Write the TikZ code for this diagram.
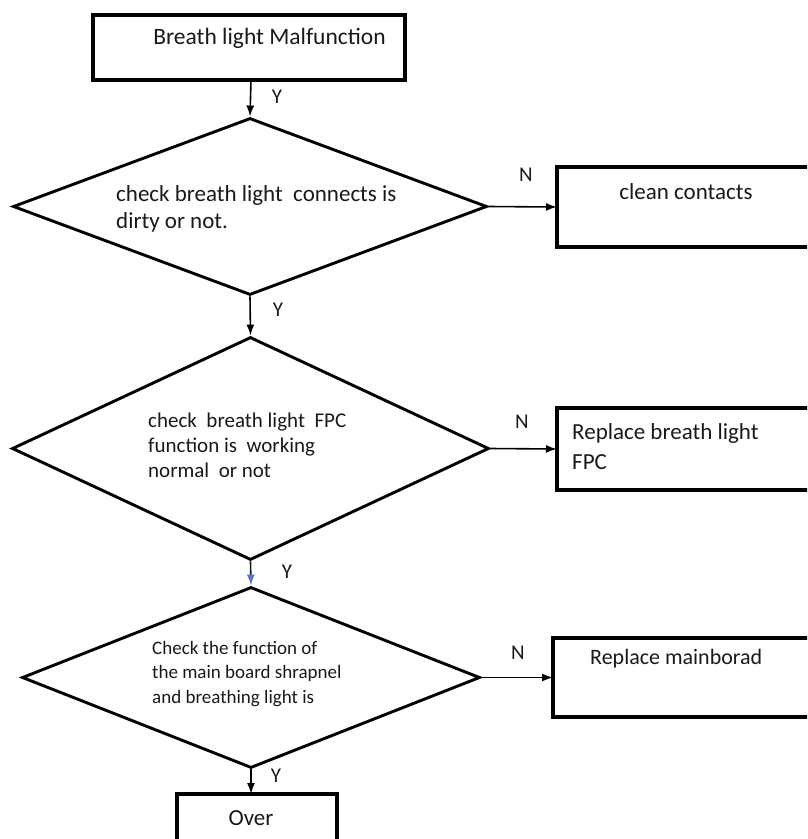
\documentclass[tikz,border=0pt]{standalone}
\usepackage{fontspec}
\setmainfont{Carlito}
\usetikzlibrary{shapes.geometric,arrows.meta}
\definecolor{txt}{RGB}{25,25,25}
\definecolor{arrowblue}{RGB}{80,120,200}
\tikzset{
  boxline/.style={draw=black, line width=3.2pt},
  dia/.style={diamond, draw=black, line width=2.9pt, inner sep=0pt},
  lbl/.style={text=txt, inner sep=0pt},
  conn/.style={line width=1.6pt, -{Latex[length=11pt,width=8pt]}},
  yn/.style={text=txt, inner sep=0pt, font=\fontsize{21}{24}\selectfont}
}
\begin{document}
\begin{tikzpicture}[x=1pt,y=-1pt]
\useasboundingbox (0,0) rectangle (807,839);
\clip (0,0) rectangle (807,839);
% start box
\draw[boxline] (93,15) rectangle (405,80);
\coordinate (startS) at (251,80);
\node[lbl, font=\fontsize{23.5}{28}\selectfont] (startT) at (269.5,38) {Breath light Malfunction};
% diamond 1
\node[dia, minimum width=474pt, minimum height=177pt] (d1) at (250,206.5) {};
\node[lbl, anchor=west, align=left, font=\fontsize{23}{27}\selectfont] (d1T) at (116,208.5) {check breath light\ \ connects is\\dirty or not.};
% clean contacts box
\draw[boxline] (815,167) -- (557,167) -- (557,247) -- (815,247);
\coordinate (b1W) at (557,207);
\node[lbl, font=\fontsize{23}{27}\selectfont] (b1T) at (686,192) {clean contacts};
% diamond 2
\node[dia, minimum width=477pt, minimum height=223pt] (d2) at (250.5,448.5) {};
\node[lbl, anchor=west, align=left, font=\fontsize{21}{25}\selectfont] (d2T) at (148,445) {check\ \ breath light\ \ FPC\\function is\ \ working\\normal\ \ or not};
% replace FPC box
\draw[boxline] (815,408) -- (557,408) -- (557,490) -- (815,490);
\coordinate (b2W) at (557,449);
\node[lbl, anchor=west, align=left, font=\fontsize{23}{30}\selectfont] (b2T) at (572,447) {Replace breath light\\FPC};
% diamond 3
\node[dia, minimum width=458pt, minimum height=181pt] (d3) at (251,677.5) {};
\node[lbl, anchor=west, align=left, font=\fontsize{19}{24.5}\selectfont] (d3T) at (152,674) {Check the function of\\the main board shrapnel\\and breathing light is};
% replace mainboard box
\draw[boxline] (815,638) -- (553,638) -- (553,717) -- (815,717);
\coordinate (b3W) at (553,677.5);
\node[lbl, anchor=west, font=\fontsize{22}{26}\selectfont] (b3T) at (590,659) {Replace mainborad};
% over box
\draw[boxline] (177,850) -- (177,794) -- (337,794) -- (337,850);
\coordinate (overN) at (251,794);
\node[lbl, font=\fontsize{23}{27}\selectfont] (overT) at (251,818) {Over};
% connectors
\draw[conn] (startS) -- (d1.north);
\draw[conn] (d1.south) -- (d2.north);
\draw[line width=1.6pt, draw=black!80!arrowblue, -{Latex[length=11pt,width=8pt,color=arrowblue]}] (d2.south) -- (d3.north);
\draw[conn] (d3.south) -- (overN);
\draw[conn] (d1.east) -- (b1W);
\draw[conn] (d2.east) -- (b2W);
\draw[conn] (d3.east) -- (b3W);
% labels
\node[yn] (y1) at (277,97) {Y};
\node[yn] (y2) at (278,310) {Y};
\node[yn] (y3) at (287,572) {Y};
\node[yn] (y4) at (276,776) {Y};
\node[yn] (n1) at (526,175) {N};
\node[yn] (n2) at (522,422) {N};
\node[yn] (n3) at (518,653) {N};
\end{tikzpicture}
\end{document}
